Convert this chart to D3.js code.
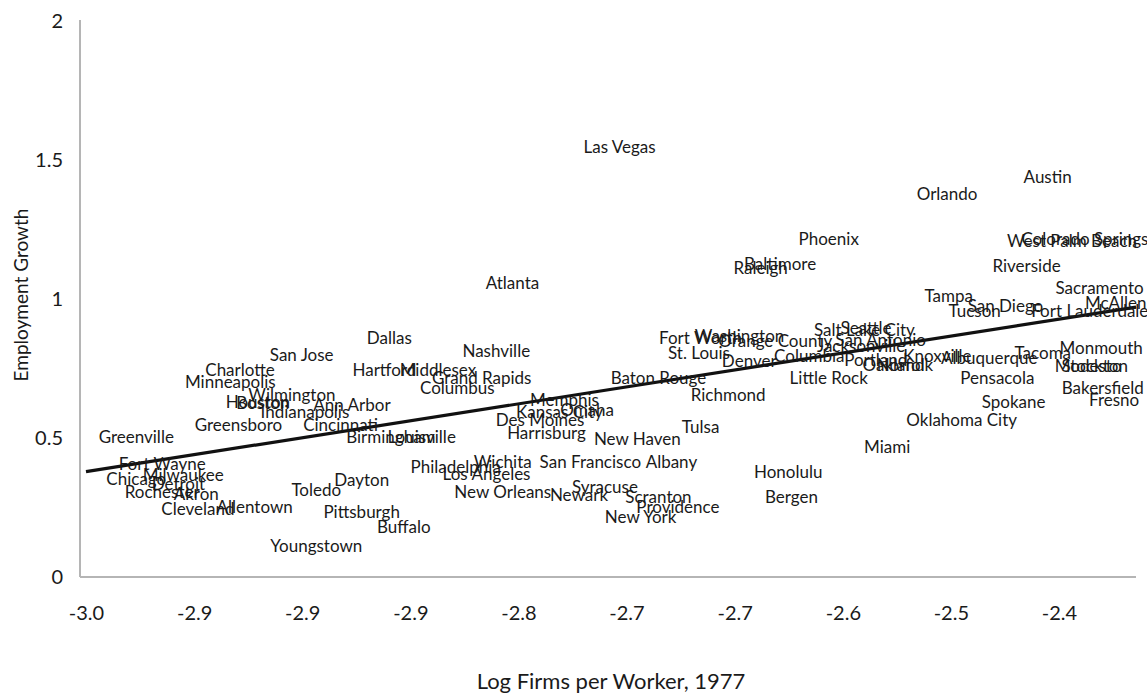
<!DOCTYPE html>
<html>
<head>
    <meta charset="utf-8">
    <title>Employment Growth vs Log Firms per Worker</title>
    <script src="https://d3js.org/d3.v7.min.js"></script>
    <style>
        body { margin: 0; background: white; }
        svg text { font-family: Lato, "Open Sans", sans-serif; fill: #1a1a1a; }
    </style>
</head>
<body>
<svg id="chart" width="1147" height="694"></svg>
<script>

    // city labels, x = log firms per worker (1977), y = employment growth
    let cities = ["Las Vegas","Austin","Orlando","Phoenix","Baltimore","Raleigh","West Palm Beach","Colorado Springs",
        "Riverside","Sacramento","Tampa","Tucson","San Diego","McAllen","Fort Lauderdale","Salt Lake City","Seattle",
        "San Antonio","Jacksonville","Columbia","Portland","Knoxville","Albuquerque","Oakland","Norfolk","Tacoma",
        "Monmouth","Modesto","Stockton","Little Rock","Pensacola","Bakersfield","Fresno","Spokane","Oklahoma City",
        "Fort Worth","Washington","Orange County","St. Louis","Denver","Baton Rouge","Richmond","Tulsa","Atlanta",
        "Dallas","Nashville","Hartford","Middlesex","Grand Rapids","Columbus","Memphis","Omaha","Kansas City",
        "Des Moines","Harrisburg","New Haven","Birmingham","Louisville","Philadelphia","Wichita","Los Angeles",
        "San Francisco","Albany","New Orleans","Newark","Syracuse","Scranton","Providence","New York","Honolulu",
        "Bergen","Miami","Dayton","Toledo","Pittsburgh","Buffalo","Youngstown","Allentown","Cleveland","Akron",
        "Rochester","Detroit","Milwaukee","Chicago","Fort Wayne","Greenville","Greensboro","Cincinnati",
        "Indianapolis","Ann Arbor","Houston","Boston","Wilmington","Minneapolis","Charlotte","San Jose"];

    let firmsLog = [-2.671,-2.407,-2.469,-2.542,-2.572,-2.584,-2.392,-2.384,
        -2.420,-2.375,-2.468,-2.452,-2.433,-2.365,-2.381,-2.520,-2.519,
        -2.510,-2.522,-2.554,-2.513,-2.475,-2.443,-2.502,-2.495,-2.410,
        -2.374,-2.382,-2.378,-2.542,-2.438,-2.373,-2.366,-2.428,-2.460,
        -2.621,-2.597,-2.575,-2.622,-2.591,-2.647,-2.604,-2.621,-2.737,
        -2.813,-2.747,-2.816,-2.783,-2.756,-2.771,-2.705,-2.691,-2.708,
        -2.720,-2.716,-2.660,-2.812,-2.793,-2.772,-2.743,-2.753,
        -2.689,-2.639,-2.743,-2.696,-2.680,-2.647,-2.635,-2.658,-2.567,
        -2.565,-2.506,-2.830,-2.858,-2.830,-2.804,-2.858,-2.896,-2.931,-2.932,
        -2.953,-2.943,-2.940,-2.969,-2.953,-2.969,-2.906,-2.843,
        -2.865,-2.836,-2.894,-2.891,-2.873,-2.911,-2.905,-2.867];

    let growth = [1.547,1.439,1.378,1.216,1.129,1.115,1.209,1.219,
        1.122,1.043,1.014,0.957,0.978,0.989,0.957,0.892,0.899,
        0.853,0.831,0.795,0.784,0.795,0.791,0.766,0.766,0.809,
        0.827,0.759,0.759,0.716,0.716,0.680,0.640,0.633,0.568,
        0.863,0.867,0.849,0.809,0.777,0.719,0.655,0.540,1.058,
        0.863,0.813,0.745,0.748,0.716,0.683,0.640,0.601,0.594,
        0.565,0.518,0.500,0.507,0.504,0.396,0.414,0.374,
        0.417,0.417,0.309,0.295,0.327,0.291,0.252,0.216,0.378,
        0.288,0.468,0.349,0.313,0.234,0.180,0.112,0.252,0.248,0.299,
        0.306,0.338,0.367,0.356,0.410,0.507,0.547,0.547,
        0.594,0.619,0.633,0.626,0.658,0.705,0.745,0.802];

    // linear trend line end points
    let trendX = [-3.0, -2.3525];
    let trendY = [0.379, 0.971];

    let xTickValues = [-3.0, -2.9333, -2.8667, -2.8, -2.7333, -2.6667, -2.6, -2.5333, -2.4667, -2.4];
    let xTickLabels = ["-3.0","-2.9","-2.9","-2.9","-2.8","-2.7","-2.7","-2.6","-2.5","-2.4"];
    let yTickValues = [0, 0.5, 1, 1.5, 2];
    let yTickLabels = ["0","0.5","1","1.5","2"];

    let svg = d3.select("#chart");
    let plotLeft = 80, plotRight = 1136, plotTop = 20, plotBottom = 577;

    let x = d3.scaleLinear().domain([-3.0, -2.4]).range([86, 1059]);
    let y = d3.scaleLinear().domain([0, 2]).range([plotBottom, 21]);

    // axes (Excel style: grey lines, no tick marks)
    let xAxis = svg.append("g")
        .attr("transform", "translate(0," + plotBottom + ")")
        .call(d3.axisBottom(x).tickValues(xTickValues).tickSize(0).tickPadding(29)
            .tickFormat((d, i) => xTickLabels[i]));
    xAxis.select(".domain").remove();
    xAxis.selectAll("text").attr("font-size", 20);

    let yAxis = svg.append("g")
        .attr("transform", "translate(" + (plotLeft - 17) + ",0)")
        .call(d3.axisLeft(y).tickValues(yTickValues).tickSize(0).tickPadding(0)
            .tickFormat((d, i) => yTickLabels[i]));
    yAxis.select(".domain").remove();
    yAxis.selectAll("text").attr("font-size", 20);

    svg.append("line")
        .attr("x1", plotLeft).attr("x2", plotRight)
        .attr("y1", plotBottom).attr("y2", plotBottom)
        .attr("stroke", "#b5b5b5").attr("stroke-width", 2);
    svg.append("line")
        .attr("x1", plotLeft).attr("x2", plotLeft)
        .attr("y1", plotTop).attr("y2", plotBottom)
        .attr("stroke", "#b5b5b5").attr("stroke-width", 2);

    // trend line
    svg.append("line")
        .attr("x1", x(trendX[0])).attr("y1", y(trendY[0]))
        .attr("x2", x(trendX[1])).attr("y2", y(trendY[1]))
        .attr("stroke", "#111").attr("stroke-width", 3.2);

    // data labels sit on the (hidden) points
    let points = cities.map((c, i) => ({name: c, fx: firmsLog[i], g: growth[i]}));
    svg.append("g").selectAll("text")
        .data(points)
        .enter()
        .append("text")
        .attr("x", d => x(d.fx))
        .attr("y", d => y(d.g))
        .attr("text-anchor", "middle")
        .attr("dominant-baseline", "central")
        .attr("font-size", 17)
        .text(d => d.name);

    // axis titles
    svg.append("text")
        .attr("x", 611)
        .attr("y", 689)
        .attr("text-anchor", "middle")
        .attr("font-size", 22)
        .text("Log Firms per Worker, 1977");

    svg.append("text")
        .attr("transform", "translate(20,295) rotate(-90)")
        .attr("text-anchor", "middle")
        .attr("dominant-baseline", "central")
        .attr("font-size", 19)
        .text("Employment Growth");

</script>
</body>
</html>
